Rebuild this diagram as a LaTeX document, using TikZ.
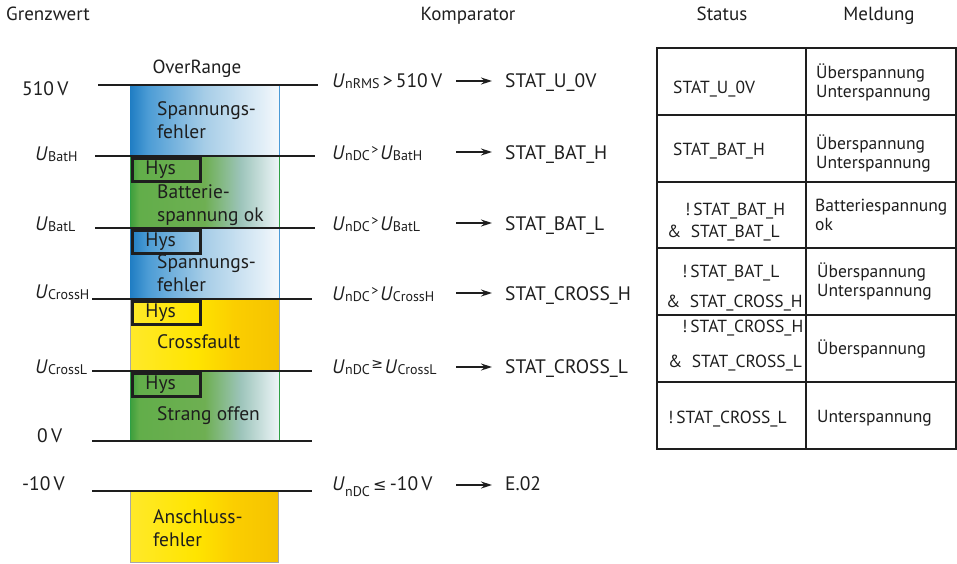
\documentclass[tikz,border=0pt]{standalone}
\usepackage{fontspec}
\setmainfont{PT Sans}
\newfontfamily\symfont{DejaVu Sans}
\usepackage{tikz}
\usetikzlibrary{arrows.meta}
\definecolor{bluA}{HTML}{1F7DC3}
\definecolor{bluB}{HTML}{4C9CD5}
\definecolor{bluC}{HTML}{A6CDE7}
\definecolor{bluD}{HTML}{F3F8FC}
\definecolor{grnA}{HTML}{3C9E3C}
\definecolor{grnB}{HTML}{62AE4A}
\definecolor{grnC}{HTML}{6EAF52}
\definecolor{grnD}{HTML}{9CC4BA}
\definecolor{grnE}{HTML}{EDF5F8}
\definecolor{yelA}{HTML}{FFE92A}
\definecolor{yelB}{HTML}{FFE500}
\definecolor{yelC}{HTML}{FBCE00}
\definecolor{yelD}{HTML}{F5C300}
\definecolor{bluedge}{HTML}{4A9AD6}
\definecolor{grnedge}{HTML}{2EA046}
\definecolor{yeledge}{HTML}{A8A8A8}
\definecolor{ink}{HTML}{1E1E1E}
\pgfdeclarehorizontalshading{bluefade}{100bp}{color(0bp)=(bluA); color(25bp)=(bluA); color(31bp)=(bluB); color(50bp)=(bluC); color(75bp)=(bluD); color(100bp)=(bluD)}
\pgfdeclarehorizontalshading{greenfade}{100bp}{color(0bp)=(grnA); color(25bp)=(grnA); color(28bp)=(grnB); color(50bp)=(grnC); color(62bp)=(grnD); color(75bp)=(grnE); color(100bp)=(grnE)}
\pgfdeclarehorizontalshading{yellowfade}{100bp}{color(0bp)=(yelA); color(25bp)=(yelA); color(47bp)=(yelB); color(60bp)=(yelC); color(75bp)=(yelD); color(100bp)=(yelD)}
\newcommand{\Ui}[2][-1.5pt]{\textit{U}\kern0.3pt\raisebox{#1}{\fontsize{14}{14}\selectfont #2}}
\newcommand{\relsym}[1]{\kern1.5pt\raisebox{4.5pt}{\fontsize{14}{14}\selectfont #1}\kern1.5pt}
\tikzset{
  lvl/.style={line width=2.7pt, ink},
  hys/.style={draw=ink, line width=2.8pt, anchor=north west, inner xsep=13pt, inner ysep=0pt,
    text width=42pt, align=left, minimum height=23pt, text=ink, font=\fontsize{19.5}{20}\selectfont},
  bandtxt/.style={anchor=north west, inner sep=0pt, align=left, text=ink, font=\fontsize{19.5}{23}\selectfont},
  lab/.style={anchor=base west, inner sep=0pt, text=ink, font=\fontsize{19.5}{22}\selectfont},
  arr/.style={-{Stealth[length=11pt,width=7pt]}, line width=1.5pt, ink, shorten >=13pt},
  tab/.style={line width=1.3pt, ink},
  cell/.style={anchor=base west, inner sep=0pt, text=ink, font=\fontsize{17.5}{19}\selectfont},
  msg/.style={anchor=west, inner sep=0pt, align=left, text=ink, font=\fontsize{17.5}{19}\selectfont},
  head/.style={anchor=base, inner sep=0pt, text=ink, font=\fontsize{19}{20}\selectfont}
}
\begin{document}
\begin{tikzpicture}[x=1pt, y=-1pt]
\useasboundingbox (0,0) rectangle (957,563);
% headings
\node[head] (hgrenz) at (48,20) {Grenzwert};
\node[head] (hkomp) at (468,20) {Komparator};
\node[head] (hstat) at (722,20) {Status};
\node[head] (hmeld) at (879,20) {Meldung};
\node[head] (over) at (197,73) {OverRange};
% bands
\shade[shading=bluefade] (130,85) rectangle (279,156);
\draw[bluedge, line width=0.8pt] (279,85) -- (279,156);
\shade[shading=greenfade] (130,156) rectangle (279,228);
\draw[grnedge, line width=1pt] (130.5,156) -- (130.5,228) (279,156) -- (279,228);
\shade[shading=bluefade] (130,228) rectangle (279,299);
\draw[bluedge, line width=0.8pt] (279,228) -- (279,299);
\shade[shading=yellowfade] (130,299) rectangle (279,371);
\draw[yeledge, line width=0.8pt] (130,299) -- (130,371) (279,299) -- (279,371);
\shade[shading=greenfade] (130,371) rectangle (279,441);
\draw[grnedge, line width=1pt] (130.5,371) -- (130.5,441) (279,371) -- (279,441);
\shade[shading=yellowfade] (130,491) rectangle (278,562);
\draw[yeledge, line width=0.8pt] (130,491) -- (130,562) -- (278,562) -- (278,491);
% levels
\draw[lvl] (98,85) -- (318,85);
\draw[lvl] (95,156) -- (315,156);
\draw[lvl] (95,228) -- (315,228);
\draw[lvl] (92,299) -- (312,299);
\draw[lvl] (92,371) -- (312,371);
\draw[lvl] (92,441) -- (312,441);
\draw[lvl] (92,491) -- (312,491);
% hysteresis boxes
\node[hys] (hys1) at (131,157) {Hys};
\node[hys] (hys2) at (131,229) {Hys};
\node[hys] (hys3) at (131,300) {Hys};
\node[hys] (hys4) at (131,372) {Hys};
% band texts
\node[bandtxt] (bt1) at (157,101) {Spannungs-\\fehler};
\node[bandtxt] (bt2) at (157,184) {Batterie-\\spannung ok};
\node[bandtxt] (bt3) at (157,254) {Spannungs-\\fehler};
\node[lab] (bt4) at (157,348) {Crossfault};
\node[lab] (bt5) at (157,420) {Strang offen};
\node[bandtxt] (bt6) at (153,509) {Anschluss-\\fehler};
% limits
\node[lab] (l510) at (22,95) {510\,V};
\node[lab] (lbath) at (35,160) {\Ui[-1pt]{BatH}};
\node[lab] (lbatl) at (35,230) {\Ui[-1pt]{BatL}};
\node[lab] (lcrossh) at (35,298) {\Ui[-1pt]{CrossH}};
\node[lab] (lcrossl) at (35,373) {\Ui[-1pt]{CrossL}};
\node[lab] (l0) at (37,442) {0\,V};
\node[lab] (lm10) at (22,490) {-10\,V};
% comparators
\node[lab] (c1) at (332,87) {\Ui{nRMS}\,>\,510\,V};
\node[lab] (c2) at (332,159) {\Ui{nDC}\relsym{>}\Ui{BatH}};
\node[lab] (c3) at (332,230) {\Ui{nDC}\relsym{>}\Ui{BatL}};
\node[lab] (c4) at (332,300) {\Ui{nDC}\relsym{>}\Ui{CrossH}};
\node[lab] (c5) at (332,373) {\Ui{nDC}\relsym{{\symfont ≥}}\Ui{CrossL}};
\node[lab] (c6) at (332,490) {\Ui[-6pt]{nDC}\,{\symfont\fontsize{16}{16}\selectfont ≤}\,-10\,V};
\node[lab] (r1) at (505,87) {STAT\_U\_0V};
\node[lab] (r2) at (505,159) {STAT\_BAT\_H};
\node[lab] (r3) at (505,230) {STAT\_BAT\_L};
\node[lab] (r4) at (505,300) {STAT\_CROSS\_H};
\node[lab] (r5) at (505,373) {STAT\_CROSS\_L};
\node[lab] (r6) at (505,490) {E.02};
\coordinate (a1) at (456,81);
\coordinate (a2) at (456,152);
\coordinate (a3) at (456,223);
\coordinate (a4) at (456,293);
\coordinate (a5) at (456,367);
\coordinate (a6) at (456,485);
\foreach \i in {1,...,6}
  \draw[arr] (a\i) -- (a\i -| r\i.west);
% table
\draw[tab] (657,48) rectangle (956,449);
\draw[tab] (806,48) -- (806,449);
\foreach \yy in {115,182,248,315,382}
  \draw[tab] (657,\yy) -- (956,\yy);
\node[cell] (s1) at (673,93) {STAT\_U\_0V};
\node[cell] (s2) at (673,155) {STAT\_BAT\_H};
\node[cell] (s3a) at (685,215) {!\,STAT\_BAT\_H};
\node[cell] (s3b) at (667,237) {\&\ \ STAT\_BAT\_L};
\node[cell] (s4a) at (682,277) {!\,STAT\_BAT\_L};
\node[cell] (s4b) at (666,307) {\&\ \ STAT\_CROSS\_H};
\node[cell] (s5a) at (682,332) {!\,STAT\_CROSS\_H};
\node[cell] (s5b) at (668,367) {\&\ \ STAT\_CROSS\_L};
\node[cell] (s6) at (668,423) {!\,STAT\_CROSS\_L};
\node[msg] (m1) at (816,82) {Überspannung\\Unterspannung};
\node[msg] (m2) at (816,153) {Überspannung\\Unterspannung};
\node[msg] (m3) at (815,215) {Batteriespannung\\ok};
\node[msg] (m4) at (817,281) {Überspannung\\Unterspannung};
\node[msg] (m5) at (817,349) {Überspannung};
\node[msg] (m6) at (817,418) {Unterspannung};
\end{tikzpicture}
\end{document}
